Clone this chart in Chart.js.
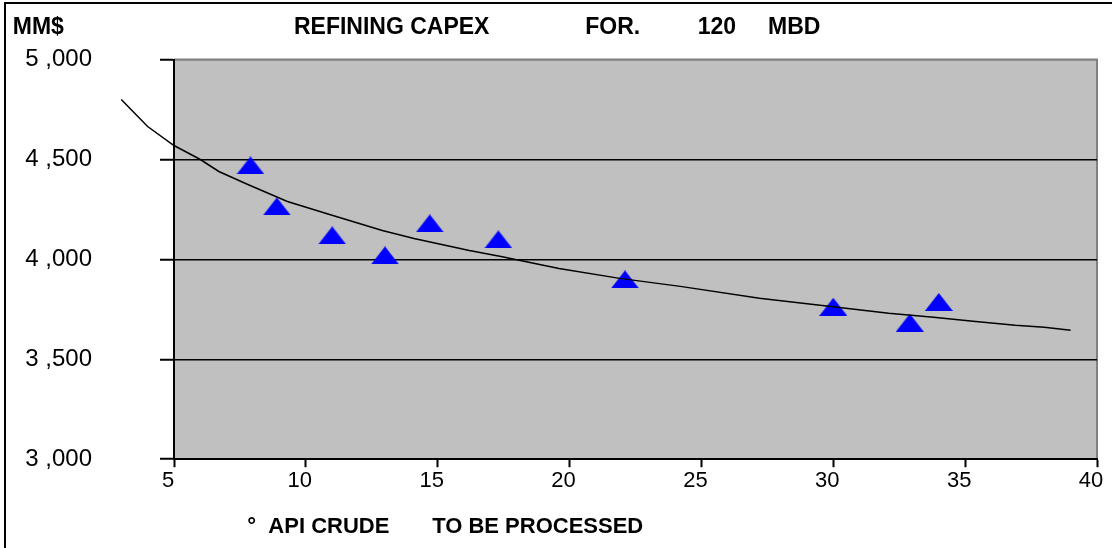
<!DOCTYPE html>
<html>
<head>
<meta charset="utf-8">
<title>Refining capex</title>
<script src="https://cdn.jsdelivr.net/npm/chart.js@4"></script>
<style>
    html, body { margin: 0; padding: 0; background: #fff; overflow: hidden; }
    #capex { display: block; }
</style>
</head>
<body>
<canvas id="capex" width="1112" height="548"></canvas>
<script>
// crude gravity (deg API) vs capex (MM$)
const gravity = [7.9, 8.9, 11.0, 13.0, 14.7, 17.3, 22.1, 30.0, 32.9, 34.0];
const capex = [4470, 4265, 4120, 4020, 4180, 4100, 3900, 3763, 3683, 3787];

// trend line as drawn
const fitGravity = [3, 4, 5, 6, 6.7, 7.8, 9.3, 10.9, 12.9, 14.1, 16.2, 17.4, 18.5, 19.6, 21.9, 24.2, 27.2, 29.5, 32.1, 33.8, 35.3, 36.9, 38, 39];
const fitCapex = [4800, 4665, 4570, 4500, 4440, 4375, 4290, 4225, 4145, 4105, 4045, 4015, 3985, 3955, 3905, 3865, 3805, 3770, 3730, 3710, 3690, 3670, 3660, 3645];

const yValues = [3000, 3500, 4000, 4500, 5000];
const yLabels = ['3 ,000', '3 ,500', '4 ,000', '4 ,500', '5 ,000'];

const FONT = "'Liberation Sans', Arial, sans-serif";
const canvas = document.getElementById('capex');

function triangleMarker(w, h, color) {
    const c = document.createElement('canvas');
    c.width = w;
    c.height = h;
    const g = c.getContext('2d');
    g.fillStyle = color;
    g.beginPath();
    g.moveTo(w / 2, 0);
    g.lineTo(w, h);
    g.lineTo(0, h);
    g.closePath();
    g.fill();
    return c;
}

// grey plot area with the darker top/right edge, plus the outer chart frame
const plotBackground = {
    id: 'plotBackground',
    beforeDraw(chart) {
        const { ctx, chartArea: a } = chart;
        ctx.save();
        ctx.fillStyle = '#c0c0c0';
        ctx.fillRect(a.left, a.top, a.right - a.left, a.bottom - a.top);
        ctx.strokeStyle = '#808080';
        ctx.lineWidth = 2;
        ctx.beginPath();
        ctx.moveTo(a.left, a.top);
        ctx.lineTo(a.right, a.top);
        ctx.lineTo(a.right, a.bottom);
        ctx.stroke();
        ctx.restore();
    },
    afterDraw(chart) {
        const ctx = chart.ctx;
        ctx.save();
        ctx.strokeStyle = '#000';
        ctx.lineWidth = 2;
        ctx.beginPath();
        ctx.moveTo(5, chart.height);
        ctx.lineTo(5, 3);
        ctx.lineTo(chart.width, 3);
        ctx.stroke();
        ctx.restore();
    }
};

new Chart(canvas, {
    type: 'scatter',
    data: {
        datasets: [
            {
                label: 'trend',
                data: fitGravity.map((x, i) => ({ x: x, y: fitCapex[i] })),
                showLine: true,
                borderColor: '#000',
                borderWidth: 1.5,
                pointRadius: 0,
                tension: 0,
                clip: false,
                order: 0
            },
            {
                label: 'capex',
                data: gravity.map((x, i) => ({ x: x, y: capex[i] })),
                pointStyle: triangleMarker(28, 18, '#0000ff'),
                showLine: false,
                order: 1
            }
        ]
    },
    options: {
        responsive: false,
        animation: false,
        devicePixelRatio: 1,
        layout: { padding: { left: 0, right: 15, top: 0, bottom: 4 } },
        plugins: {
            legend: { display: false },
            tooltip: { enabled: false },
            title: {
                display: true,
                align: 'start',
                text: '  MM$' + ' '.repeat(36) + 'REFINING CAPEX' + ' '.repeat(15) + 'FOR.' + ' '.repeat(9) + '120' + ' '.repeat(5) + 'MBD',
                color: '#000',
                font: { family: FONT, size: 23, weight: 'bold' },
                padding: { top: 14, bottom: 18 }
            }
        },
        scales: {
            x: {
                type: 'linear',
                // limits set here so the trend line is not trimmed before x = 5
                afterDataLimits(scale) { scale.min = 5; scale.max = 40; },
                ticks: {
                    stepSize: 5,
                    padding: 1,
                    labelOffset: -6,
                    maxRotation: 0,
                    color: '#000',
                    font: { family: FONT, size: 22 }
                },
                grid: { drawOnChartArea: false, tickLength: 8, tickColor: '#000', tickWidth: 2 },
                border: { color: '#000', width: 2 },
                title: {
                    display: true,
                    align: 'start',
                    text: ' '.repeat(12) + '°  API CRUDE' + ' '.repeat(7) + 'TO BE PROCESSED',
                    color: '#000',
                    font: { family: FONT, size: 22, weight: 'bold' },
                    padding: { top: 18, bottom: 4 }
                }
            },
            y: {
                min: 3000,
                max: 5000,
                afterFit(scale) {
                    scale.width = 174;
                    scale.paddingTop = 14;
                    scale.paddingBottom = 14;
                },
                ticks: {
                    stepSize: 500,
                    padding: 68,
                    color: '#000',
                    font: { family: FONT, size: 24 },
                    callback: v => yLabels[yValues.indexOf(v)]
                },
                grid: {
                    color: ctx => (ctx.tick && ctx.tick.value === 5000 ? '#808080' : '#000'),
                    lineWidth: 1.5,
                    tickColor: '#000',
                    tickLength: 14,
                    tickWidth: 2
                },
                border: { color: '#000', width: 2 }
            }
        }
    },
    plugins: [plotBackground]
});
</script>
</body>
</html>
